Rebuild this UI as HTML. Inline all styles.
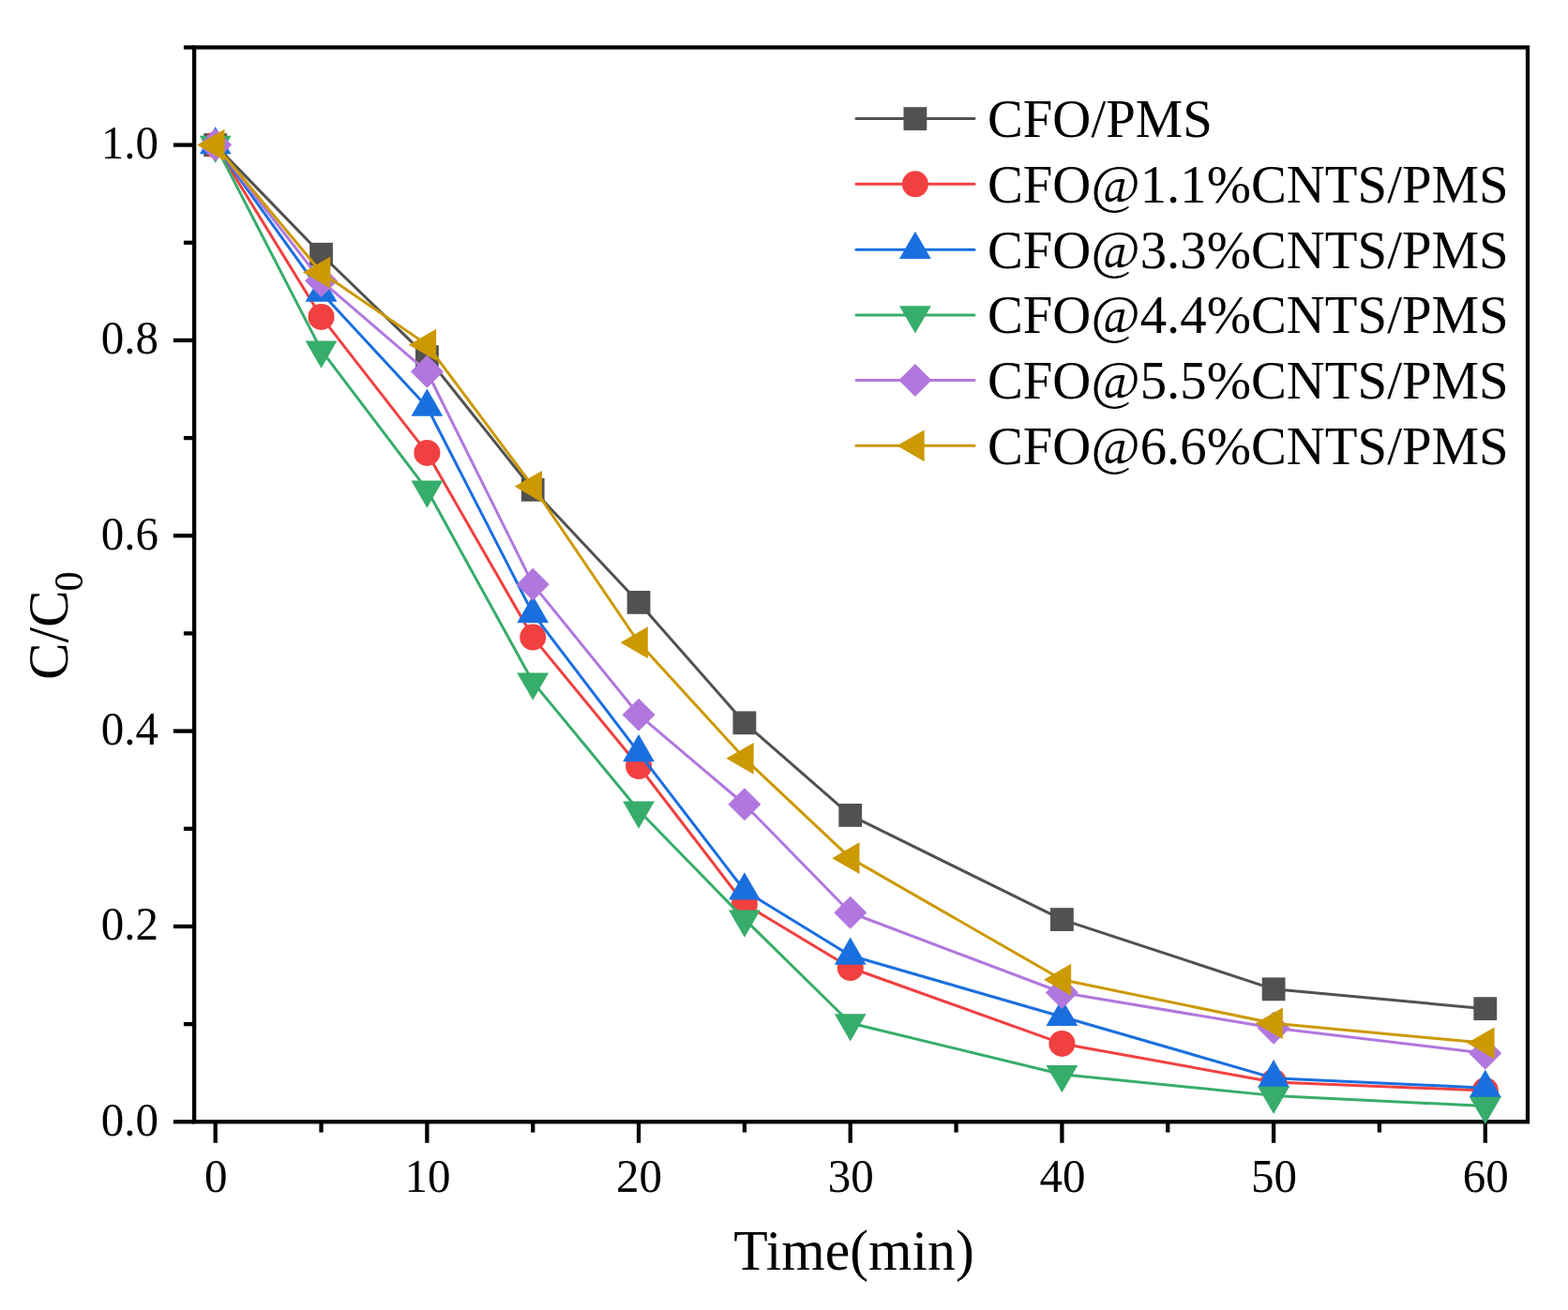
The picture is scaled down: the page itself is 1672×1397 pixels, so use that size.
<!DOCTYPE html>
<html lang="en"><head><meta charset="utf-8"><title>C/C0 vs Time</title>
<style>html,body{margin:0;padding:0;background:#fff;}body{width:1672px;height:1397px;overflow:hidden;}svg{display:block;}text{font-family:"Liberation Serif","Times New Roman",serif;fill:#000;}</style></head><body>
<svg width="1672" height="1397" viewBox="0 0 1672 1397">
<rect width="1672" height="1397" fill="#fff"/>
<g stroke="#000" stroke-width="4.3" fill="none" stroke-linecap="butt">
<rect x="207.1" y="50.5" width="1421.9" height="1145.8"/>
<line x1="184.8" y1="1196.3" x2="207.1" y2="1196.3"/>
<line x1="195.9" y1="1092.13" x2="207.1" y2="1092.13"/>
<line x1="184.8" y1="987.96" x2="207.1" y2="987.96"/>
<line x1="195.9" y1="883.79" x2="207.1" y2="883.79"/>
<line x1="184.8" y1="779.62" x2="207.1" y2="779.62"/>
<line x1="195.9" y1="675.45" x2="207.1" y2="675.45"/>
<line x1="184.8" y1="571.28" x2="207.1" y2="571.28"/>
<line x1="195.9" y1="467.11" x2="207.1" y2="467.11"/>
<line x1="184.8" y1="362.94" x2="207.1" y2="362.94"/>
<line x1="195.9" y1="258.77" x2="207.1" y2="258.77"/>
<line x1="184.8" y1="154.6" x2="207.1" y2="154.6"/>
<line x1="195.9" y1="50.5" x2="207.1" y2="50.5"/>
<line x1="229.7" y1="1196.3" x2="229.7" y2="1218.8"/>
<line x1="342.54" y1="1196.3" x2="342.54" y2="1207.6"/>
<line x1="455.38" y1="1196.3" x2="455.38" y2="1218.8"/>
<line x1="568.22" y1="1196.3" x2="568.22" y2="1207.6"/>
<line x1="681.06" y1="1196.3" x2="681.06" y2="1218.8"/>
<line x1="793.9" y1="1196.3" x2="793.9" y2="1207.6"/>
<line x1="906.74" y1="1196.3" x2="906.74" y2="1218.8"/>
<line x1="1019.58" y1="1196.3" x2="1019.58" y2="1207.6"/>
<line x1="1132.42" y1="1196.3" x2="1132.42" y2="1218.8"/>
<line x1="1245.26" y1="1196.3" x2="1245.26" y2="1207.6"/>
<line x1="1358.1" y1="1196.3" x2="1358.1" y2="1218.8"/>
<line x1="1470.94" y1="1196.3" x2="1470.94" y2="1207.6"/>
<line x1="1583.78" y1="1196.3" x2="1583.78" y2="1218.8"/>
</g>
<g><polyline points="229.7,154.6 342.54,271.27 455.38,380.65 568.22,522.32 681.06,642.43 793.9,770.87 906.74,869.41 1132.42,980.56 1358.1,1054.84 1583.78,1075.67" fill="none" stroke="#515151" stroke-width="3" stroke-linejoin="round"/>
<rect x="217.3" y="142.2" width="24.8" height="24.8" fill="#515151"/>
<rect x="330.14" y="258.87" width="24.8" height="24.8" fill="#515151"/>
<rect x="442.98" y="368.25" width="24.8" height="24.8" fill="#515151"/>
<rect x="555.82" y="509.92" width="24.8" height="24.8" fill="#515151"/>
<rect x="668.66" y="630.03" width="24.8" height="24.8" fill="#515151"/>
<rect x="781.5" y="758.47" width="24.8" height="24.8" fill="#515151"/>
<rect x="894.34" y="857.01" width="24.8" height="24.8" fill="#515151"/>
<rect x="1120.02" y="968.16" width="24.8" height="24.8" fill="#515151"/>
<rect x="1345.7" y="1042.44" width="24.8" height="24.8" fill="#515151"/>
<rect x="1571.38" y="1063.27" width="24.8" height="24.8" fill="#515151"/>
</g>
<g><polyline points="229.7,154.6 342.54,337.94 455.38,482.94 568.22,679.62 681.06,817.02 793.9,964 906.74,1032.02 1132.42,1112.96 1358.1,1154.01 1583.78,1162.97" fill="none" stroke="#F14040" stroke-width="3" stroke-linejoin="round"/>
<circle cx="229.7" cy="154.6" r="14" fill="#F14040"/>
<circle cx="342.54" cy="337.94" r="14" fill="#F14040"/>
<circle cx="455.38" cy="482.94" r="14" fill="#F14040"/>
<circle cx="568.22" cy="679.62" r="14" fill="#F14040"/>
<circle cx="681.06" cy="817.02" r="14" fill="#F14040"/>
<circle cx="793.9" cy="964" r="14" fill="#F14040"/>
<circle cx="906.74" cy="1032.02" r="14" fill="#F14040"/>
<circle cx="1132.42" cy="1112.96" r="14" fill="#F14040"/>
<circle cx="1358.1" cy="1154.01" r="14" fill="#F14040"/>
<circle cx="1583.78" cy="1162.97" r="14" fill="#F14040"/>
</g>
<g><polyline points="229.7,154.6 342.54,311.9 455.38,433.98 568.22,654.41 681.06,802.54 793.9,949.73 906.74,1019 1132.42,1084.21 1358.1,1149.63 1583.78,1160.15" fill="none" stroke="#1A6FDF" stroke-width="3" stroke-linejoin="round"/>
<polygon points="229.7,135.09 246.6,164.36 212.8,164.36" fill="#1A6FDF"/>
<polygon points="342.54,292.38 359.44,321.65 325.64,321.65" fill="#1A6FDF"/>
<polygon points="455.38,414.47 472.28,443.74 438.48,443.74" fill="#1A6FDF"/>
<polygon points="568.22,634.89 585.12,664.16 551.32,664.16" fill="#1A6FDF"/>
<polygon points="681.06,783.02 697.96,812.29 664.16,812.29" fill="#1A6FDF"/>
<polygon points="793.9,930.22 810.8,959.49 777,959.49" fill="#1A6FDF"/>
<polygon points="906.74,999.49 923.64,1028.76 889.84,1028.76" fill="#1A6FDF"/>
<polygon points="1132.42,1064.7 1149.32,1093.97 1115.52,1093.97" fill="#1A6FDF"/>
<polygon points="1358.1,1130.12 1375,1159.39 1341.2,1159.39" fill="#1A6FDF"/>
<polygon points="1583.78,1140.64 1600.68,1169.91 1566.88,1169.91" fill="#1A6FDF"/>
</g>
<g><polyline points="229.7,154.6 342.54,373.36 455.38,522.32 568.22,727.33 681.06,864.21 793.9,980.15 906.74,1090.98 1132.42,1145.78 1358.1,1168.38 1583.78,1179.53" fill="none" stroke="#37AD6B" stroke-width="3" stroke-linejoin="round"/>
<polygon points="229.7,174.11 246.6,144.84 212.8,144.84" fill="#37AD6B"/>
<polygon points="342.54,392.87 359.44,363.6 325.64,363.6" fill="#37AD6B"/>
<polygon points="455.38,541.83 472.28,512.56 438.48,512.56" fill="#37AD6B"/>
<polygon points="568.22,746.84 585.12,717.57 551.32,717.57" fill="#37AD6B"/>
<polygon points="681.06,883.72 697.96,854.45 664.16,854.45" fill="#37AD6B"/>
<polygon points="793.9,999.66 810.8,970.39 777,970.39" fill="#37AD6B"/>
<polygon points="906.74,1110.5 923.64,1081.23 889.84,1081.23" fill="#37AD6B"/>
<polygon points="1132.42,1165.29 1149.32,1136.02 1115.52,1136.02" fill="#37AD6B"/>
<polygon points="1358.1,1187.9 1375,1158.63 1341.2,1158.63" fill="#37AD6B"/>
<polygon points="1583.78,1199.04 1600.68,1169.77 1566.88,1169.77" fill="#37AD6B"/>
</g>
<g><polyline points="229.7,154.6 342.54,299.4 455.38,396.27 568.22,623.16 681.06,762.22 793.9,857.75 906.74,973.27 1132.42,1058.48 1358.1,1096.3 1583.78,1123.17" fill="none" stroke="#B177DE" stroke-width="3" stroke-linejoin="round"/>
<polygon points="229.7,137.1 247.2,154.6 229.7,172.1 212.2,154.6" fill="#B177DE"/>
<polygon points="342.54,281.9 360.04,299.4 342.54,316.9 325.04,299.4" fill="#B177DE"/>
<polygon points="455.38,378.77 472.88,396.27 455.38,413.77 437.88,396.27" fill="#B177DE"/>
<polygon points="568.22,605.66 585.72,623.16 568.22,640.66 550.72,623.16" fill="#B177DE"/>
<polygon points="681.06,744.72 698.56,762.22 681.06,779.72 663.56,762.22" fill="#B177DE"/>
<polygon points="793.9,840.25 811.4,857.75 793.9,875.25 776.4,857.75" fill="#B177DE"/>
<polygon points="906.74,955.77 924.24,973.27 906.74,990.77 889.24,973.27" fill="#B177DE"/>
<polygon points="1132.42,1040.98 1149.92,1058.48 1132.42,1075.98 1114.92,1058.48" fill="#B177DE"/>
<polygon points="1358.1,1078.8 1375.6,1096.3 1358.1,1113.8 1340.6,1096.3" fill="#B177DE"/>
<polygon points="1583.78,1105.67 1601.28,1123.17 1583.78,1140.67 1566.28,1123.17" fill="#B177DE"/>
</g>
<g><polyline points="229.7,154.6 342.54,290.54 455.38,367.63 568.22,518.78 681.06,685.24 793.9,808.79 906.74,915.15 1132.42,1044.73 1358.1,1091.3 1583.78,1112.34" fill="none" stroke="#CC9900" stroke-width="3" stroke-linejoin="round"/>
<polygon points="210.19,154.6 239.46,137.7 239.46,171.5" fill="#CC9900"/>
<polygon points="323.03,290.54 352.3,273.64 352.3,307.44" fill="#CC9900"/>
<polygon points="435.87,367.63 465.14,350.73 465.14,384.53" fill="#CC9900"/>
<polygon points="548.71,518.78 577.98,501.88 577.98,535.68" fill="#CC9900"/>
<polygon points="661.55,685.24 690.82,668.34 690.82,702.14" fill="#CC9900"/>
<polygon points="774.39,808.79 803.66,791.89 803.66,825.69" fill="#CC9900"/>
<polygon points="887.23,915.15 916.5,898.25 916.5,932.05" fill="#CC9900"/>
<polygon points="1112.91,1044.73 1142.18,1027.83 1142.18,1061.63" fill="#CC9900"/>
<polygon points="1338.59,1091.3 1367.86,1074.4 1367.86,1108.2" fill="#CC9900"/>
<polygon points="1564.27,1112.34 1593.54,1095.44 1593.54,1129.24" fill="#CC9900"/>
</g>
<g font-size="49px">
<text transform="translate(168.9 1210.8) scale(1 1.03)" text-anchor="end">0.0</text>
<text transform="translate(168.9 1002.46) scale(1 1.03)" text-anchor="end">0.2</text>
<text transform="translate(168.9 794.12) scale(1 1.03)" text-anchor="end">0.4</text>
<text transform="translate(168.9 585.78) scale(1 1.03)" text-anchor="end">0.6</text>
<text transform="translate(168.9 377.44) scale(1 1.03)" text-anchor="end">0.8</text>
<text transform="translate(168.9 169.1) scale(1 1.03)" text-anchor="end">1.0</text>
<text transform="translate(230.2 1271.4) scale(1 1.03)" text-anchor="middle">0</text>
<text transform="translate(455.88 1271.4) scale(1 1.03)" text-anchor="middle">10</text>
<text transform="translate(681.56 1271.4) scale(1 1.03)" text-anchor="middle">20</text>
<text transform="translate(907.24 1271.4) scale(1 1.03)" text-anchor="middle">30</text>
<text transform="translate(1132.92 1271.4) scale(1 1.03)" text-anchor="middle">40</text>
<text transform="translate(1358.6 1271.4) scale(1 1.03)" text-anchor="middle">50</text>
<text transform="translate(1584.28 1271.4) scale(1 1.03)" text-anchor="middle">60</text>
</g>
<text transform="translate(910.6 1353.7) scale(1 1.02)" font-size="59.7px" text-anchor="middle">Time(min)</text>
<text transform="translate(71.9 724.9) rotate(-90) scale(1 1.04)" font-size="59.2px">C/C<tspan font-size="42px" dx="-1" dy="15.4">0</tspan></text>
<g><line x1="913" y1="126.6" x2="1039" y2="126.6" stroke="#515151" stroke-width="3" stroke-linecap="round"/>
<rect x="963.5" y="114.2" width="24.8" height="24.8" fill="#515151"/>
<text transform="translate(1052.9 146.1) scale(1 1.015)" font-size="56.8px">CFO/PMS</text></g>
<g><line x1="913" y1="196.3" x2="1039" y2="196.3" stroke="#F14040" stroke-width="3" stroke-linecap="round"/>
<circle cx="975.9" cy="196.3" r="14" fill="#F14040"/>
<text transform="translate(1052.9 215.8) scale(1 1.015)" font-size="56.8px">CFO@1.1%CNTS/PMS</text></g>
<g><line x1="913" y1="266.2" x2="1039" y2="266.2" stroke="#1A6FDF" stroke-width="3" stroke-linecap="round"/>
<polygon points="975.9,246.69 992.8,275.96 959,275.96" fill="#1A6FDF"/>
<text transform="translate(1052.9 285.7) scale(1 1.015)" font-size="56.8px">CFO@3.3%CNTS/PMS</text></g>
<g><line x1="913" y1="335.9" x2="1039" y2="335.9" stroke="#37AD6B" stroke-width="3" stroke-linecap="round"/>
<polygon points="975.9,355.41 992.8,326.14 959,326.14" fill="#37AD6B"/>
<text transform="translate(1052.9 355.4) scale(1 1.015)" font-size="56.8px">CFO@4.4%CNTS/PMS</text></g>
<g><line x1="913" y1="405.4" x2="1039" y2="405.4" stroke="#B177DE" stroke-width="3" stroke-linecap="round"/>
<polygon points="975.9,387.9 993.4,405.4 975.9,422.9 958.4,405.4" fill="#B177DE"/>
<text transform="translate(1052.9 424.9) scale(1 1.015)" font-size="56.8px">CFO@5.5%CNTS/PMS</text></g>
<g><line x1="913" y1="475.3" x2="1039" y2="475.3" stroke="#CC9900" stroke-width="3" stroke-linecap="round"/>
<polygon points="956.39,475.3 985.66,458.4 985.66,492.2" fill="#CC9900"/>
<text transform="translate(1052.9 494.8) scale(1 1.015)" font-size="56.8px">CFO@6.6%CNTS/PMS</text></g>
</svg></body></html>
